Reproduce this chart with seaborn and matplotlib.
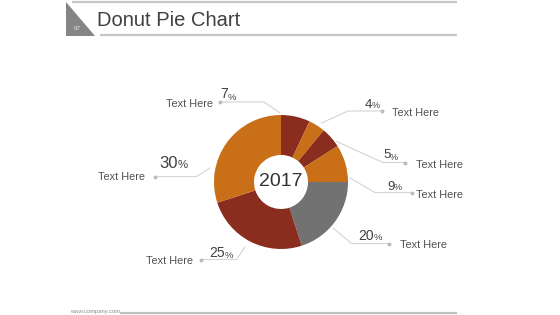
import matplotlib
matplotlib.use("Agg")
import matplotlib.pyplot as plt
from matplotlib.patches import Polygon
import seaborn as sns

# ---- data ----
shares = [7, 4, 5, 9, 20, 25, 30]
pct_labels = ["7", "4", "5", "9", "20", "25", "30"]
cat_labels = ["Text Here"] * 7
slice_colors = ["#8A2D1F", "#C86F17", "#8A2D1F", "#C86F17", "#727272", "#8A2D1F", "#C86F17"]
center_label = "2017"
title = "Donut Pie Chart"
page_no = "67"
footer = "www.company.com"

sns.set_theme(style="white")
plt.rcParams["font.family"] = ["Liberation Sans", "DejaVu Sans"]

W, H = 560, 315
fig = plt.figure(figsize=(W / 100, H / 100), dpi=100)
ax = fig.add_axes([0, 0, 1, 1])

def Y(py):
    return H - py

# donut
cx, cy, r_out, r_in = 281, 182, 67, 27
ax.pie(shares, colors=slice_colors, startangle=90, counterclock=False,
       center=(cx, Y(cy)), radius=r_out,
       wedgeprops=dict(width=r_out - r_in, linewidth=0))
ax.text(cx, Y(cy), center_label, ha="center", va="center", fontsize=14, color="#333333")

# label layout (pixel coords): number pos, number size, text pos, leader line pts
layout = [
    dict(num=(220, 98.5), ns=10, txt=(166, 107), line=[(280, 113), (264, 102), (220, 102)]),
    dict(num=(365, 107.5), ns=9.5, txt=(391.5, 116), line=[(321.5, 123), (348, 111), (381.5, 111)]),
    dict(num=(383, 158.5), ns=9.5, txt=(415.5, 167.5), line=[(336.5, 141.5), (383, 162.5), (405, 162.5)]),
    dict(num=(387, 189.5), ns=9.5, txt=(416.5, 198.5), line=[(350, 178), (375, 192.5), (411.5, 192.5)]),
    dict(num=(358.5, 239.5), ns=10, txt=(400.5, 248.5), line=[(333, 228), (351.5, 243.5), (389, 243.5)]),
    dict(num=(209, 257), ns=10, txt=(145.5, 264.5), line=[(245, 247), (236.5, 259.5), (200.5, 259.5)]),
    dict(num=(159, 167.5), ns=12, txt=(98, 180), line=[(210, 168), (196.5, 176.5), (155, 176.5)]),
]

for lay, p, c in zip(layout, pct_labels, cat_labels):
    xs = [pt[0] for pt in lay["line"]]
    ys = [Y(pt[1]) for pt in lay["line"]]
    ax.plot(xs, ys, color="#D4D4D4", lw=0.8, solid_capstyle="round", zorder=1)
    ax.plot(xs[-1], ys[-1], "o", ms=1.8, color="#BBBBBB", zorder=1)
    t = ax.text(lay["num"][0], Y(lay["num"][1]), p, ha="left", va="baseline",
                fontsize=lay["ns"], color="#404040")
    ax.annotate("%", xy=(1, 0), xycoords=t, xytext=(-0.2, 0), textcoords="offset points",
                ha="left", va="bottom", fontsize=lay["ns"] * 0.68, color="#404040")
    ax.text(lay["txt"][0], Y(lay["txt"][1]), c, ha="left", va="baseline",
            fontsize=7.8, color="#505050")

# header
ax.add_patch(Polygon([(66, Y(2)), (66, Y(36)), (95, Y(36))], closed=True,
                     facecolor="#858585", edgecolor="none"))
ax.text(77, Y(30), page_no, fontsize=4.5, color="#E8E8E8", ha="center", va="baseline")
ax.plot([72, 457], [Y(2), Y(2)], color="#C6C6C6", lw=1.6, solid_capstyle="butt")
ax.plot([100, 457], [Y(35), Y(35)], color="#C6C6C6", lw=1.6, solid_capstyle="butt")
ax.text(97, Y(26), title, ha="left", va="baseline", fontsize=14.5, color="#404040")

# footer
ax.text(70, Y(313), footer, ha="left", va="baseline", fontsize=4.2, color="#8A8A8A")
ax.plot([120, 457], [Y(313), Y(313)], color="#C0C0C0", lw=1.6, solid_capstyle="butt")

ax.set_xlim(0, W)
ax.set_ylim(0, H)
ax.set_aspect("auto")
ax.axis("off")

fig.savefig("out.png", dpi=100, facecolor="white")
